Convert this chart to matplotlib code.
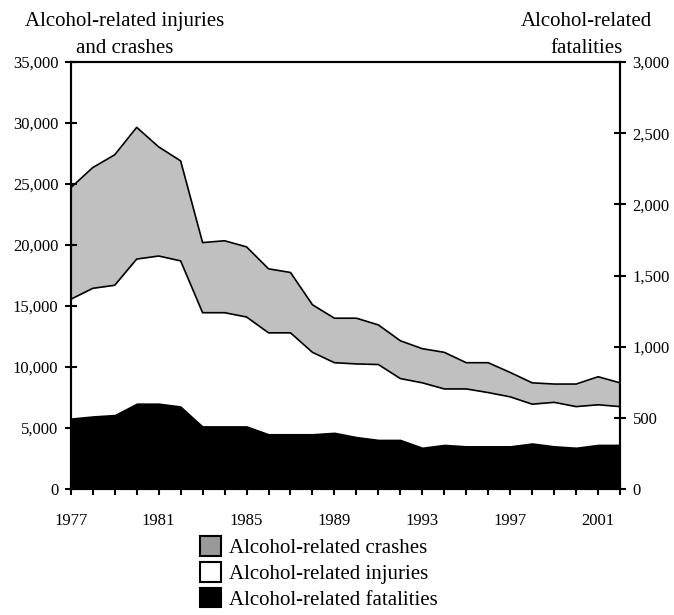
import numpy as np
import matplotlib.pyplot as plt
from matplotlib.patches import Patch

plt.rcParams['font.family'] = ['Liberation Serif', 'DejaVu Serif']

years = list(range(1977, 2003))
crashes = [24700, 26350, 27400, 29650, 28050, 26900, 20200, 20350, 19850, 18050,
           17750, 15100, 14000, 14000, 13450, 12150, 11500, 11200, 10350, 10350,
           9550, 8700, 8600, 8600, 9200, 8700]
injuries = [15550, 16450, 16700, 18850, 19100, 18700, 14450, 14450, 14100, 12800,
            12800, 11200, 10350, 10250, 10200, 9050, 8700, 8200, 8200, 7900,
            7550, 6950, 7100, 6750, 6900, 6750]
fatalities = [500, 515, 525, 605, 605, 585, 445, 445, 445, 390,
              390, 390, 400, 370, 350, 350, 295, 315, 305, 305,
              305, 325, 305, 295, 315, 315]

left_ticks = [0, 5000, 10000, 15000, 20000, 25000, 30000, 35000]
left_labels = ['0', '5,000', '10,000', '15,000', '20,000', '25,000', '30,000', '35,000']
right_ticks = [0, 500, 1000, 1500, 2000, 2500, 3000]
right_labels = ['0', '500', '1,000', '1,500', '2,000', '2,500', '3,000']
year_labels = [str(y) if (y - 1977) % 4 == 0 else '' for y in years]

fig = plt.figure(figsize=(6.74, 6.15), dpi=100)
ax = fig.add_axes([0.105, 0.205, 0.815, 0.694])

ax.fill_between(years, injuries, crashes, color='#c0c0c0', lw=0)
ax.plot(years, crashes, color='k', lw=1.2)
ax.plot(years, injuries, color='k', lw=1.2)
ax.set_xlim(1977, 2002)
ax.set_ylim(0, 35000)
ax.set_yticks(left_ticks)
ax.set_yticklabels(left_labels)
ax.set_xticks(years)
ax.set_xticklabels(year_labels)

ax2 = ax.twinx()
ax2.fill_between(years, 0, fatalities, color='k', lw=0)
ax2.set_ylim(0, 3000)
ax2.set_yticks(right_ticks)
ax2.set_yticklabels(right_labels)

for a in (ax, ax2):
    for s in a.spines.values():
        s.set_linewidth(1.5)
ax.tick_params(axis='y', direction='inout', length=8, width=1.5, pad=5, labelsize=12)
ax.tick_params(axis='x', direction='inout', length=8, width=1.5, pad=13, labelsize=12)
ax2.tick_params(axis='y', direction='inout', length=8, width=1.5, pad=5, labelsize=12)

fig.text(0.185, 0.943, 'Alcohol-related injuries\nand crashes', ha='center', va='center',
         multialignment='center', fontsize=15, linespacing=1.55)
fig.text(0.87, 0.943, 'Alcohol-related\nfatalities', ha='center', va='center',
         multialignment='center', fontsize=15, linespacing=1.55)

handles = [Patch(facecolor='#999999', edgecolor='k', lw=1.5),
           Patch(facecolor='white', edgecolor='k', lw=1.5),
           Patch(facecolor='black', edgecolor='k', lw=1.5)]
labels = ['Alcohol-related crashes', 'Alcohol-related injuries', 'Alcohol-related fatalities']
fig.legend(handles, labels, loc='upper left', bbox_to_anchor=(0.296, 0.128), frameon=False,
           fontsize=15, handlelength=1.05, handleheight=1.05, handletextpad=0.35,
           labelspacing=0.2, borderpad=0, borderaxespad=0)

fig.savefig('out.png', dpi=100)
